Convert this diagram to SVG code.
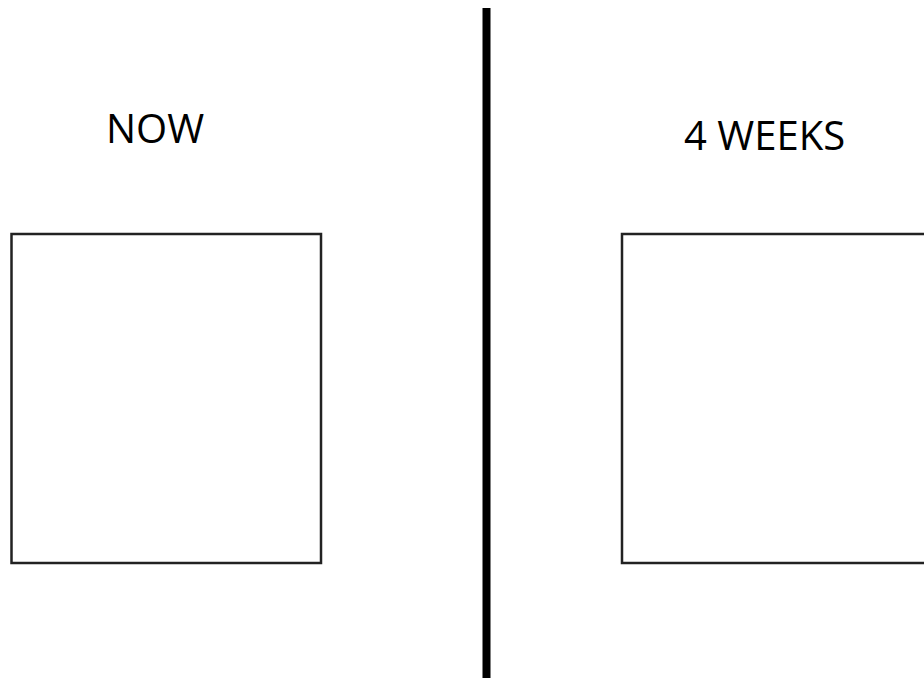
<svg xmlns="http://www.w3.org/2000/svg" width="924" height="678" viewBox="0 0 924 678">
<style>
.lbl{font-family:"Open Sans","Noto Sans",sans-serif;font-size:40px;fill:#000}
.box{fill:#fff;stroke:#222;stroke-width:2.5}
</style>
<rect x="0" y="0" width="924" height="678" fill="#fff"/>
<g id="divider"><line x1="486.5" y1="8" x2="486.5" y2="678" stroke="#000" stroke-width="8"/></g>
<g id="now">
<text class="lbl" x="106" y="143">NOW</text>
<rect class="box" x="11.5" y="234" width="309.5" height="329"/>
</g>
<g id="weeks4">
<text class="lbl" x="684" y="150">4 WEEKS</text>
<rect class="box" x="622" y="234" width="320" height="329"/>
</g>
</svg>
